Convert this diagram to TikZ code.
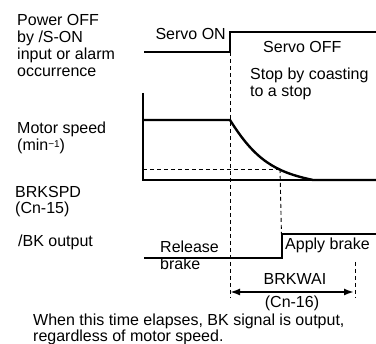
\documentclass[tikz,border=0pt]{standalone}
\usepackage{fontspec}
\setmainfont{Liberation Sans}
\usetikzlibrary{arrows.meta}
\begin{document}
\begin{tikzpicture}[x=1pt,y=-1pt,
  lbl/.style={font=\fontsize{16}{17}\selectfont, inner sep=0pt, anchor=base west},
  sig/.style={line width=1.2pt},
  spd/.style={line width=2.4pt},
  dsh/.style={line width=0.9pt, dash pattern=on 4pt off 3pt},
  dim/.style={line width=1.8pt, {Latex[length=10pt,width=7pt]}-{Latex[length=10pt,width=7pt]}}]
\useasboundingbox (0,0) rectangle (376,344);
% coordinates
\coordinate (s0) at (144,52);
\coordinate (s1) at (230,52);
\coordinate (s2) at (230,32);
\coordinate (s3) at (376,32);
\coordinate (ay) at (143,93);
\coordinate (ao) at (143,180);
\coordinate (ax) at (376,180);
\coordinate (m0) at (143,120);
\coordinate (m1) at (230,120);
\coordinate (m2) at (313,180);
\coordinate (bp) at (280,169);
\coordinate (bs) at (143,169);
\coordinate (k0) at (144,258);
\coordinate (k1) at (282,258);
\coordinate (k2) at (282,234);
\coordinate (k3) at (376,234);
\coordinate (d1) at (230,298);
\coordinate (d2t) at (355,262);
\coordinate (d2b) at (355,298);
\coordinate (a1) at (230,292);
\coordinate (a2) at (354,292);
% labels
\node[lbl] (lpow1) at (17,26) {Power OFF};
\node[lbl] (lpow2) at (17,43) {by /S-ON};
\node[lbl] (lpow3) at (17,60) {input or alarm};
\node[lbl] (lpow4) at (17,77) {occurrence};
\node[lbl, anchor=base east] (lon) at (226,40) {Servo ON};
\node[lbl] (loff) at (263,53) {Servo OFF};
\node[lbl] (lstop1) at (250,80) {Stop by coasting};
\node[lbl] (lstop2) at (250,97) {to a stop};
\node[lbl] (lmot1) at (17,134) {Motor speed};
\node[lbl] (lmot2) at (17,151) {(min\raisebox{3.5pt}{\fontsize{10}{10}\selectfont −1})};
\node[lbl] (lbrk1) at (15,198) {BRKSPD};
\node[lbl] (lbrk2) at (15,214) {(Cn-15)};
\node[lbl] (lbk) at (18,247) {/BK output};
\node[lbl] (lrel) at (160,253) {Release};
\node[lbl] (lbra) at (160,270) {brake};
\node[lbl] (lapp) at (285,250) {Apply brake};
\node[lbl, anchor=base] (lwai) at (295,285) {BRKWAI};
\node[lbl, anchor=base] (lcn) at (292,308) {(Cn-16)};
\node[lbl] (lwhen1) at (33,326) {When this time elapses, BK signal is output,};
\node[lbl] (lwhen2) at (33,342) {regardless of motor speed.};
% signals
\draw[sig] (s0) -- (s1) -- (s2) -- (s3);
\draw[sig] (ay) -- (ao) -- (ax);
\draw[spd] (m0) -- (m1) .. controls (255,160) and (275,172) .. (m2) -- (ax);
\draw[dsh] (bs) -- (bp);
\draw[dsh] (s1) -- (d1);
\draw[dsh] (bp) -- (k1);
\draw[dsh] (d2t) -- (d2b);
\draw[sig] (k0) -- (k1) -- (k2) -- (k3);
\draw[dim] (a1) -- (a2);
\end{tikzpicture}
\end{document}
